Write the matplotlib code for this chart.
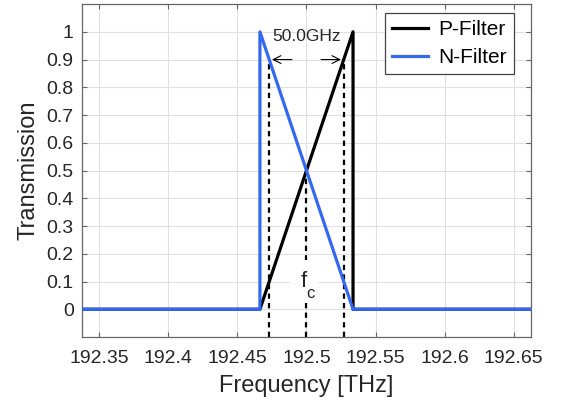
import matplotlib
matplotlib.use("Agg")
import matplotlib.pyplot as plt

plt.rcParams['font.family'] = ['Liberation Sans', 'DejaVu Sans']

# filter shapes (frequency in THz, transmission)
p_freq = [192.3375, 192.4663, 192.5337, 192.5337, 192.6625]
p_trans = [0, 0, 1, 0, 0]
n_freq = [192.3375, 192.4663, 192.4663, 192.5337, 192.6625]
n_trans = [0, 0, 1, 0, 0]

# marker lines
edge_freqs = [192.473, 192.527]
edge_level = 0.9
center_freq = 192.5
center_level = 0.5

x_ticks = [192.35, 192.4, 192.45, 192.5, 192.55, 192.6, 192.65]
x_ticklabels = ["192.35", "192.4", "192.45", "192.5", "192.55", "192.6", "192.65"]
y_ticks = [0, 0.1, 0.2, 0.3, 0.4, 0.5, 0.6, 0.7, 0.8, 0.9, 1]
y_ticklabels = ["0", "0.1", "0.2", "0.3", "0.4", "0.5", "0.6", "0.7", "0.8", "0.9", "1"]

BLUE = "#3468EE"
AX_GRAY = "#666666"
TXT = "#262626"

fig = plt.figure(figsize=(5.81, 4.08), dpi=100)
ax = fig.add_axes([0.1411, 0.174, 0.7728, 0.816])

ax.set_xlim(192.3375, 192.6625)
ax.set_ylim(-0.1, 1.1)

# dashed guide lines (behind filters)
dash = (0, (2.4, 1.9))
for f in edge_freqs:
    ax.plot([f, f], [-0.1, edge_level], color="black", lw=1.6, linestyle=dash, zorder=2)
ax.plot([center_freq, center_freq], [-0.1, center_level], color="black", lw=1.6, linestyle=dash, zorder=2)

ax.plot(p_freq, p_trans, color="black", lw=2.3, label="P-Filter", zorder=3)
ax.plot(n_freq, n_trans, color=BLUE, lw=2.3, label="N-Filter", zorder=4)

# spacing arrows
ax.annotate("", xy=(edge_freqs[0], edge_level), xytext=(192.4915, edge_level),
            arrowprops=dict(arrowstyle="->", color="black", lw=0.8, mutation_scale=14), zorder=5)
ax.annotate("", xy=(edge_freqs[1], edge_level), xytext=(192.5085, edge_level),
            arrowprops=dict(arrowstyle="->", color="black", lw=0.8, mutation_scale=14), zorder=5)
ax.text(192.5, 0.983, "50.0GHz", ha="center", va="center", fontsize=12.5, color=TXT, zorder=6)
# centre frequency label, f with subscript c, on a white patch
ax.text(192.4982, 0.1, "f", ha="center", va="center", fontsize=16, color=TXT, zorder=6,
        bbox=dict(facecolor="white", edgecolor="none", boxstyle="square,pad=0.5"))
ax.text(192.5031, 0.056, "c", ha="center", va="center", fontsize=12, color=TXT, zorder=7)

ax.set_xticks(x_ticks)
ax.set_xticklabels(x_ticklabels)
ax.set_yticks(y_ticks)
ax.set_yticklabels(y_ticklabels)
ax.tick_params(direction="in", length=3.6, width=0.8, color=AX_GRAY, labelsize=14,
               labelcolor=TXT, top=True, right=True)
ax.tick_params(axis="x", pad=9)
ax.tick_params(axis="y", pad=6)
ax.grid(True, color="#e0e0e0", lw=0.8, zorder=0)
ax.set_axisbelow(True)
for s in ax.spines.values():
    s.set_color(AX_GRAY)
    s.set_linewidth(0.9)

ax.set_xlabel("Frequency [THz]", fontsize=17, color=TXT, labelpad=6)
ax.set_ylabel("Transmission", fontsize=17, color=TXT, labelpad=5)

leg = ax.legend(loc="upper right", bbox_to_anchor=(0.962, 0.973), fontsize=15,
                fancybox=False, framealpha=1, edgecolor="#444444", handlelength=1.7,
                borderpad=0.35, labelspacing=0.42, handletextpad=0.5, borderaxespad=0)
leg.get_frame().set_linewidth(0.9)

fig.savefig("out.png", dpi=100)
